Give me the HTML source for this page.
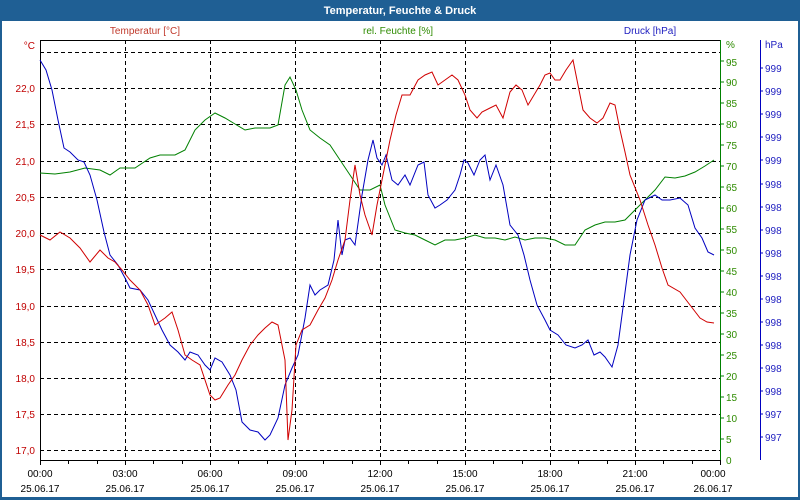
<!DOCTYPE html>
<html><head><meta charset="utf-8"><style>
body{margin:0;background:#fff}
svg{display:block;font-family:"Liberation Sans",sans-serif}
</style></head><body>
<svg width="800" height="500" viewBox="0 0 800 500">
<rect x="0" y="0" width="800" height="500" fill="#1f5f94"/>
<rect x="2" y="21" width="796" height="476" fill="#fff"/>
<text x="400" y="14" font-size="11" font-weight="bold" fill="#fff" text-anchor="middle">Temperatur, Feuchte &amp; Druck</text>
<g font-size="10">
<text x="145" y="34" fill="#c0392b" text-anchor="middle">Temperatur [°C]</text>
<text x="398" y="34" fill="#2e8b00" text-anchor="middle">rel. Feuchte [%]</text>
<text x="650" y="34" fill="#2020c0" text-anchor="middle">Druck [hPa]</text>
<text x="35" y="49" fill="#c00000" text-anchor="end">°C</text>
<text x="726" y="48" fill="#2e8b00">%</text>
<text x="765" y="48" fill="#2020c0">hPa</text>
</g>
<g stroke="#000" stroke-dasharray="4,3" stroke-width="1">
<path d="M40 52.5H720M40 88.5H720M40 124.5H720M40 161.5H720M40 197.5H720M40 233.5H720M40 269.5H720M40 306.5H720M40 342.5H720M40 378.5H720M40 414.5H720M40 450.5H720"/>
<path d="M125.5 40V460M210.5 40V460M295.5 40V460M380.5 40V460M465.5 40V460M550.5 40V460M635.5 40V460"/>
</g>
<path d="M40.5 40V460.5H720M40 40.5H720" stroke="#000" fill="none"/>
<path d="M68.5 460v4M97.5 460v4M125.5 460v5M153.5 460v4M182.5 460v4M210.5 460v5M238.5 460v4M267.5 460v4M295.5 460v5M323.5 460v4M352.5 460v4M380.5 460v5M408.5 460v4M437.5 460v4M465.5 460v5M493.5 460v4M522.5 460v4M550.5 460v5M578.5 460v4M607.5 460v4M635.5 460v5M663.5 460v4M692.5 460v4M720.5 460v5M40.5 460v5" stroke="#000"/>
<path d="M720.5 40V460" stroke="#008000"/>
<path d="M760.5 40V460" stroke="#0000c0"/>
<g font-size="10" fill="#c00000" text-anchor="end">
<text x="35" y="92">22,0</text><text x="35" y="128">21,5</text><text x="35" y="165">21,0</text><text x="35" y="201">20,5</text><text x="35" y="237">20,0</text><text x="35" y="273">19,5</text><text x="35" y="310">19,0</text><text x="35" y="346">18,5</text><text x="35" y="382">18,0</text><text x="35" y="418">17,5</text><text x="35" y="454">17,0</text>
</g>
<g font-size="10" fill="#2e8b00" id="g"></g>
<g font-size="10" fill="#2020c0" id="b"></g>
<g font-size="10" fill="#000" text-anchor="middle">
<text x="40" y="477">00:00</text><text x="125" y="477">03:00</text><text x="210" y="477">06:00</text><text x="295" y="477">09:00</text><text x="380" y="477">12:00</text><text x="465" y="477">15:00</text><text x="550" y="477">18:00</text><text x="635" y="477">21:00</text><text x="713" y="477">00:00</text>
<text x="40" y="492">25.06.17</text><text x="125" y="492">25.06.17</text><text x="210" y="492">25.06.17</text><text x="295" y="492">25.06.17</text><text x="380" y="492">25.06.17</text><text x="465" y="492">25.06.17</text><text x="550" y="492">25.06.17</text><text x="635" y="492">25.06.17</text><text x="713" y="492">26.06.17</text>
</g>
<g font-size="10" fill="#2e8b00">
<text x="726" y="66">95</text><text x="726" y="86">90</text><text x="726" y="107">85</text><text x="726" y="128">80</text><text x="726" y="149">75</text><text x="726" y="170">70</text><text x="726" y="191">65</text><text x="726" y="212">60</text><text x="726" y="233">55</text><text x="726" y="254">50</text><text x="726" y="275">45</text><text x="726" y="296">40</text><text x="726" y="317">35</text><text x="726" y="338">30</text><text x="726" y="359">25</text><text x="726" y="380">20</text><text x="726" y="401">15</text><text x="726" y="422">10</text><text x="726" y="443">5</text><text x="726" y="464">0</text>
</g>
<path d="M720 61h4M720 82h4M720 103h4M720 124h4M720 145h4M720 166h4M720 187h4M720 208h4M720 229h4M720 250h4M720 271h4M720 292h4M720 313h4M720 334h4M720 355h4M720 376h4M720 397h4M720 418h4M720 439h4" stroke="#008000"/>
<g font-size="10" fill="#2020c0">
<text x="765" y="72">999</text><text x="765" y="95">999</text><text x="765" y="118">999</text><text x="765" y="141">999</text><text x="765" y="164">999</text><text x="765" y="188">998</text><text x="765" y="211">998</text><text x="765" y="234">998</text><text x="765" y="257">998</text><text x="765" y="280">998</text><text x="765" y="303">998</text><text x="765" y="326">998</text><text x="765" y="349">998</text><text x="765" y="372">998</text><text x="765" y="395">998</text><text x="765" y="418">997</text><text x="765" y="441">997</text>
</g>
<path d="M760 68h3M760 91h3M760 114h3M760 137h3M760 160h3M760 184h3M760 207h3M760 230h3M760 253h3M760 276h3M760 299h3M760 322h3M760 345h3M760 368h3M760 391h3M760 414h3M760 437h3" stroke="#0000c0"/>
<polyline fill="none" stroke="#008000" points="40,173 55,174 70,172 85,168 100,170 110,175 120,168 135,168 150,158 160,155 175,155 185,150 195,130 205,120 215,113 225,118 235,124 245,130 255,128 270,128 278,125 285,85 290,77 296,90 302,110 310,130 320,138 330,145 340,160 350,175 360,190 370,190 380,185 385,205 395,230 405,233 415,235 425,240 435,245 445,240 455,240 465,238 475,235 485,238 495,238 505,240 515,237 525,240 535,238 545,238 555,240 565,245 575,245 585,230 595,225 605,222 615,222 625,220 635,210 645,200 655,190 665,177 675,178 685,176 695,172 705,166 714,160"/>
<polyline fill="none" stroke="#0000c0" points="40,60 46,70 52,90 58,120 64,148 70,152 78,160 84,162 90,175 97,200 104,232 110,255 118,265 125,278 130,288 140,290 148,300 155,315 162,330 170,345 178,352 185,360 190,352 198,355 205,365 210,370 215,358 222,362 230,375 236,390 242,422 250,430 258,432 265,440 270,435 278,418 285,385 292,368 298,355 305,318 310,285 315,295 320,290 328,285 334,260 338,220 342,255 345,240 350,238 355,245 362,195 368,160 373,140 377,158 382,165 386,155 392,180 398,185 405,175 410,185 418,165 424,162 428,195 435,208 440,205 447,200 455,190 460,175 464,160 468,163 474,175 480,160 485,155 490,180 496,165 503,185 510,225 518,235 524,255 530,280 537,305 545,320 550,330 558,335 566,345 575,348 582,345 588,340 594,355 600,352 605,357 612,367 618,345 624,300 630,255 637,220 645,200 655,195 662,200 670,200 680,198 688,205 695,228 702,238 708,252 714,255"/>
<polyline fill="none" stroke="#d00000" points="40,235 50,240 60,232 70,238 80,248 90,262 100,250 108,258 115,262 122,270 130,280 140,290 148,305 155,325 165,318 172,312 178,330 185,355 192,360 200,365 205,380 210,395 215,400 220,398 228,385 235,375 242,360 250,345 258,335 265,328 272,322 278,325 285,360 288,440 292,410 296,345 302,330 310,325 318,310 325,298 332,280 338,260 345,240 350,200 355,165 360,195 365,215 372,235 377,205 383,175 390,140 396,115 402,95 410,95 418,80 425,75 432,72 438,85 445,80 452,75 458,80 465,95 470,110 477,118 482,112 490,108 496,105 503,118 510,92 516,85 522,90 528,105 534,95 540,85 545,75 550,73 555,80 560,80 566,70 573,60 578,85 583,110 590,118 597,123 603,118 610,103 615,105 620,130 625,152 630,175 640,200 648,225 655,245 662,268 668,285 680,292 690,305 700,318 707,322 714,323"/>
</svg>
</body></html>
